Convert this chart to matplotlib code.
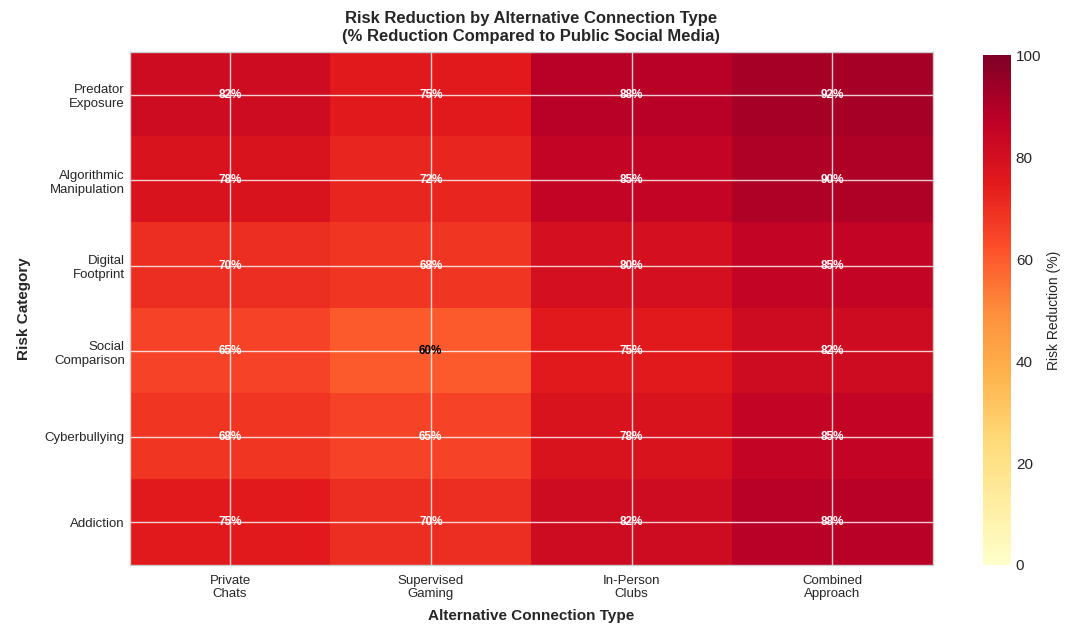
import numpy as np
import matplotlib
matplotlib.use('Agg')
import matplotlib.pyplot as plt

plt.style.use('seaborn-v0_8-whitegrid')
plt.rcParams['font.family'] = ['Liberation Sans', 'DejaVu Sans']

# Data
risk_categories = ['Predator\nExposure', 'Algorithmic\nManipulation', 'Digital\nFootprint',
                   'Social\nComparison', 'Cyberbullying', 'Addiction']
connection_types = ['Private\nChats', 'Supervised\nGaming', 'In-Person\nClubs', 'Combined\nApproach']

predator_exposure = [82, 75, 88, 92]
algorithmic_manipulation = [78, 72, 85, 90]
digital_footprint = [70, 68, 80, 85]
social_comparison = [65, 60, 75, 82]
cyberbullying = [68, 65, 78, 85]
addiction = [75, 70, 82, 88]

values = np.array([predator_exposure, algorithmic_manipulation, digital_footprint,
                   social_comparison, cyberbullying, addiction])

fig = plt.figure(figsize=(10.72, 6.26), dpi=100)
ax = fig.add_axes([0.121, 0.0975, 0.749, 0.8195])
cax = fig.add_axes([0.917, 0.0975, 0.026, 0.814])

im = ax.imshow(values, cmap='YlOrRd', vmin=0, vmax=100, aspect='auto')

ax.set_xticks(np.arange(len(connection_types)))
ax.set_xticklabels(connection_types, fontsize=9.5)
ax.set_yticks(np.arange(len(risk_categories)))
ax.set_yticklabels(risk_categories, fontsize=9.5)
ax.tick_params(axis='x', pad=7)
ax.grid(True, color='white', linewidth=1.0, alpha=0.8)

# Annotate cells
for i in range(values.shape[0]):
    for j in range(values.shape[1]):
        v = values[i, j]
        ax.text(j, i, f'{v}%', ha='center', va='center', fontsize=8.5,
                fontweight='bold', color='white' if v > 60 else 'black')

ax.set_xlabel('Alternative Connection Type', fontsize=11, fontweight='bold', labelpad=6)
ax.set_ylabel('Risk Category', fontsize=11, fontweight='bold', labelpad=10)
ax.set_title('Risk Reduction by Alternative Connection Type\n(% Reduction Compared to Public Social Media)',
             fontsize=12, fontweight='bold', pad=8)

cbar = fig.colorbar(im, cax=cax)
cbar.set_label('Risk Reduction (%)', fontsize=10)
cbar.ax.tick_params(labelsize=11)
cbar.outline.set_visible(False)

plt.savefig('out.png', dpi=100)
